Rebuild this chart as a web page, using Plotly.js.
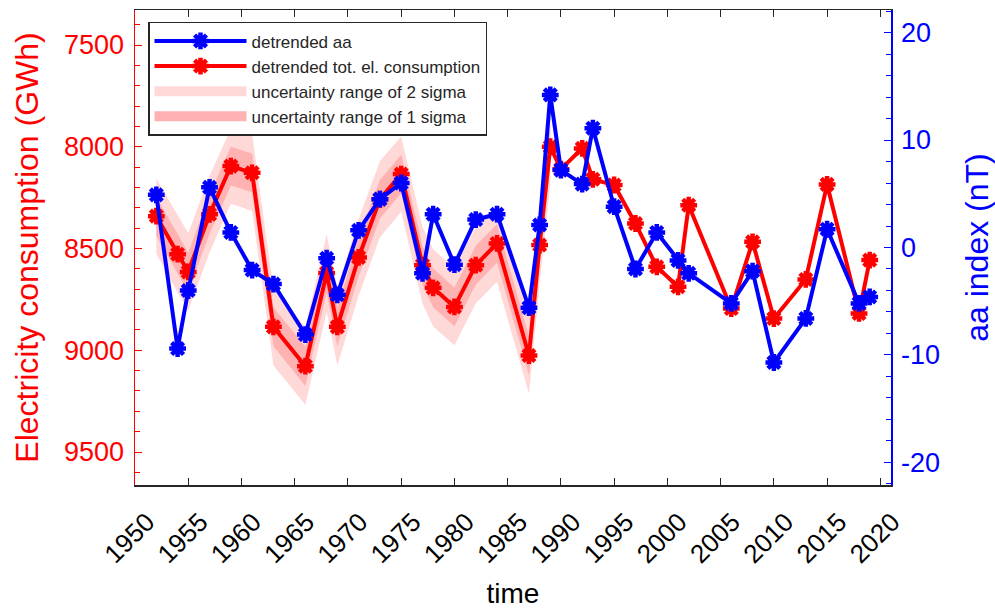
<!DOCTYPE html>
<html>
<head>
<meta charset="utf-8">
<script src="https://cdn.plot.ly/plotly-3.0.1.min.js"></script>
<style>html,body{margin:0;padding:0;background:#fff;}#chart{width:995px;height:609px;}</style>
</head>
<body>
<div id="chart"></div>
<script>
// ---- data ----
const years = [1952,1954,1955,1957,1959,1961,1963,1966,1968,1969,1971,1973,1975,1977,1978,1980,1982,1984,1987,1988,1989,1990,1992,1993,1995,1997,1999,2001,2002,2006,2008,2010,2013,2015,2018,2019];
const elConsumption = [8341,8528,8615,8332,8095,8128,8885,9078,8620,8885,8544,8258,8134,8582,8693,8787,8582,8475,9026,8483,8000,8110,8008,8160,8188,8377,8590,8688,8287,8795,8467,8844,8652,8185,8819,8557];
const aaIndex = [4.9,-9.4,-4.0,5.6,1.4,-2.1,-3.4,-8.1,-1.0,-4.4,1.6,4.5,6.0,-2.4,3.1,-1.6,2.6,3.1,-5.6,2.1,14.2,7.2,5.9,11.1,3.8,-2.0,1.4,-1.2,-2.4,-5.2,-2.2,-10.7,-6.6,1.7,-5.2,-4.6];
// uncertainty half-widths (GWh) for the years that carry a band (1952-1989)
const bandYears = [1952,1954,1955,1957,1959,1961,1963,1966,1968,1969,1971,1973,1975,1977,1978,1980,1982,1984,1987,1988,1989];
const sigma1 = [95,95,95,95,95,95,95,97,95,95,95,95,95,95,95,95,95,95,95,95,95];
const sigma2 = [185,188,190,188,185,188,190,190,190,190,188,188,185,188,190,188,188,188,188,188,185];
const xTickVals = [1950,1955,1960,1965,1970,1975,1980,1985,1990,1995,2000,2005,2010,2015,2020];
const xTickText = ['1950','1955','1960','1965','1970','1975','1980','1985','1990','1995','2000','2005','2010','2015','2020'];
const yTickVals = [7500,8000,8500,9000,9500];
const yTickText = ['7500','8000','8500','9000','9500'];
const y2TickVals = [20,10,0,-10,-20];
const y2TickText = ['20','10','0','-10','-20'];

// ---- build band polygons ----
function band(sig){
  const center = bandYears.map(y => elConsumption[years.indexOf(y)]);
  const xs = bandYears.concat(bandYears.slice().reverse());
  const lo = center.map((c,i)=>c - sig[i]);
  const hi = center.map((c,i)=>c + sig[i]).reverse();
  return {x: xs, y: lo.concat(hi)};
}
const b2 = band(sigma2), b1 = band(sigma1);

const FONT = 'Arial, "Liberation Sans", sans-serif';
const RED = '#ff0000', BLUE = '#0000ff';
const PINK2 = 'rgb(255,216,216)', PINK1 = 'rgb(255,178,178)';

const traces = [
  {x: b2.x, y: b2.y, type:'scatter', mode:'lines', fill:'toself', fillcolor:PINK2,
   line:{width:0, color:'rgba(0,0,0,0)'}, showlegend:false, hoverinfo:'skip'},
  {x: b1.x, y: b1.y, type:'scatter', mode:'lines', fill:'toself', fillcolor:PINK1,
   line:{width:0, color:'rgba(0,0,0,0)'}, showlegend:false, hoverinfo:'skip'},
  {x: years, y: elConsumption, type:'scatter', mode:'lines+markers', name:'detrended tot. el. consumption',
   line:{color:RED, width:4}, marker:{symbol:'asterisk-open', size:14, color:RED, line:{color:RED, width:4.5}}, legendrank:2},
  {x: years, y: aaIndex, type:'scatter', mode:'lines+markers', name:'detrended aa', yaxis:'y2',
   line:{color:BLUE, width:4}, marker:{symbol:'asterisk-open', size:14, color:BLUE, line:{color:BLUE, width:4.5}}, legendrank:1},
  // legend swatches for the bands (drawn outside the visible x-range)
  {x:[1900,1901], y:[8000,8000], type:'scatter', mode:'lines', name:'uncertainty range of 2 sigma',
   line:{color:PINK2, width:17}, legendrank:3, hoverinfo:'skip'},
  {x:[1900,1901], y:[8000,8000], type:'scatter', mode:'lines', name:'uncertainty range of 1 sigma',
   line:{color:PINK1, width:17}, legendrank:4, hoverinfo:'skip'}
];

const layout = {
  width: 995, height: 609,
  margin: {l:135, r:104, t:10, b:124, pad:0},
  paper_bgcolor:'#fff', plot_bgcolor:'#fff',
  font: {family: FONT, color:'#000'},
  showlegend: true,
  legend: {x:0.0172, y:0.975, xanchor:'left', yanchor:'top', bgcolor:'#fff', bordercolor:'#262626', borderwidth:1.5,
           font:{size:17, family:FONT, color:'#262626'}, itemwidth:92, tracegroupgap:0},
  xaxis: {range:[1950,2021], tickmode:'array', tickvals:xTickVals, ticktext:xTickText, tickangle:-45,
          ticks:'inside', ticklen:7, tickcolor:'#262626', showline:true, linecolor:'#262626', linewidth:1.5,
          mirror:'ticks', showgrid:false, zeroline:false, tickfont:{size:26, color:'#000'},
          ticklabelshift:12, ticklabelstandoff:10,
          title:{text:'time', font:{size:28, color:'#000'}, standoff:22}},
  yaxis: {range:[9662,7328], tickmode:'array', tickvals:yTickVals, ticktext:yTickText,
          ticks:'inside', ticklen:7, tickcolor:RED, showline:true, linecolor:RED, linewidth:1.5,
          showgrid:false, zeroline:false, tickfont:{size:27, color:RED}, ticklabelstandoff:4,
          minor:{tickmode:'linear', tick0:7500, dtick:100, ticks:'inside', ticklen:5, tickcolor:RED, showgrid:false},
          title:{text:'Electricity consumption (GWh)', font:{size:32, color:RED}, standoff:16}},
  yaxis2: {overlaying:'y', side:'right', range:[-22.1,22.1], tickmode:'array', tickvals:y2TickVals, ticktext:y2TickText,
          ticks:'inside', ticklen:7, tickcolor:BLUE, showline:true, linecolor:BLUE, linewidth:1.5,
          showgrid:false, zeroline:false, tickfont:{size:27, color:BLUE}, ticklabelstandoff:3,
          minor:{tickmode:'linear', tick0:0, dtick:2, ticks:'inside', ticklen:5, tickcolor:BLUE, showgrid:false},
          title:{text:'aa index (nT)', font:{size:32, color:BLUE}, standoff:28}}
};

Plotly.newPlot('chart', traces, layout, {displayModeBar:false, staticPlot:true});
</script>
</body>
</html>
